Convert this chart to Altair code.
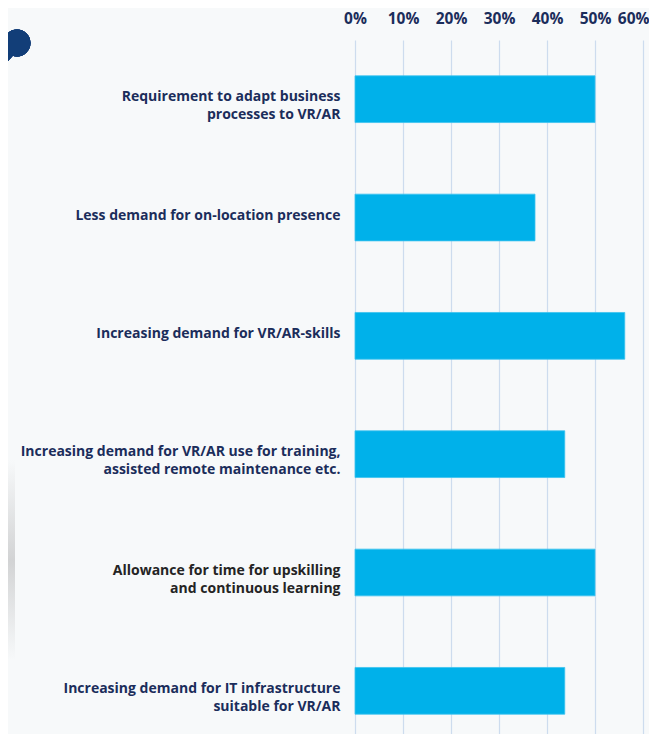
import altair as alt
import pandas as pd

categories = [
    "Requirement to adapt business|processes to VR/AR",
    "Less demand for on-location presence",
    "Increasing demand for VR/AR-skills",
    "Increasing demand for VR/AR use for training,|assisted remote maintenance etc.\u00a0\u00a0",
    "Allowance for time for upskilling|and continuous learning",
    "Increasing demand for IT infrastructure|suitable for VR/AR",
]
values = [0.50, 0.375, 0.562, 0.437, 0.50, 0.437]
x_ticks = [0, 0.1, 0.2, 0.3, 0.4, 0.5, 0.6]

df = pd.DataFrame({"cat": categories, "val": values})

NAVY = "#1b2d5b"
FONT = "Open Sans"

bars = alt.Chart(df).mark_bar(color="#00b1ea", stroke="#3cc3ef", strokeWidth=0.8).encode(
    x=alt.X(
        "val:Q",
        scale=alt.Scale(domain=[0, 0.6], nice=False, zero=True),
        axis=alt.Axis(
            orient="top",
            format="%",
            values=x_ticks,
            domain=False,
            ticks=False,
            labelPadding=14,
            labelFontSize=15.5,
            labelFontWeight="bold",
            labelColor=NAVY,
            labelFont=FONT,
            labelFlush=False,
            labelOverlap=False,
            labelAlign={"condition": {"test": "datum.value >= 0.59", "value": "right"}, "value": "center"},
            labelOffset={"condition": {"test": "datum.value >= 0.59", "value": 6}, "value": 0},
            grid=True,
            gridColor="#cddcee",
            gridWidth=1.2,
            title=None,
        ),
    ),
    y=alt.Y(
        "cat:N",
        sort=categories,
        scale=alt.Scale(paddingInner=0.605, paddingOuter=0.235, align=0.644),
        axis=alt.Axis(
            domain=False,
            ticks=False,
            grid=False,
            labelPadding=15,
            labelFontSize=14,
            labelFontWeight="bold",
            labelFont=FONT,
            labelColor={
                "condition": {"test": "indexof(datum.label, 'Allowance') == 0", "value": "#242424"},
                "value": NAVY,
            },
            labelLimit=400,
            labelLineHeight=18,
            labelOffset=-2,
            labelExpr="split(datum.label, '|')",
            title=None,
        ),
    ),
)

deco_line = alt.Chart(df).mark_rule(color="#123e78", strokeWidth=11, strokeCap="butt").encode(
    x=alt.value(-338), y=alt.value(3), x2=alt.value(-372), y2=alt.value(40)
)
deco_dot = alt.Chart(df).mark_point(filled=True, color="#123e78", opacity=1, size=720, shape="circle").encode(
    x=alt.value(-338), y=alt.value(3)
)
deco_shadow = alt.Chart(df).mark_rect(
    color=alt.Gradient(
        gradient="linear",
        stops=[
            alt.GradientStop(color="#f7f9fa", offset=0),
            alt.GradientStop(color="#d2d3d4", offset=0.5),
            alt.GradientStop(color="#f7f9fa", offset=1),
        ],
        x1=0, x2=0, y1=0, y2=1,
    ),
    opacity=0.9,
).encode(
    x=alt.value(-347), x2=alt.value(-340), y=alt.value(420), y2=alt.value(620)
)

chart = (
    alt.layer(deco_shadow, deco_line, deco_dot, bars)
    .properties(
        width=288,
        height=694,
        autosize=alt.AutoSizeParams(type="none"),
        padding={"left": 347, "top": 32, "right": 6, "bottom": 0},
        background="#f7f9fa",
    )
    .configure_view(stroke=None)
)

chart.save("out.html", embed_options={"renderer": "svg", "actions": False})
